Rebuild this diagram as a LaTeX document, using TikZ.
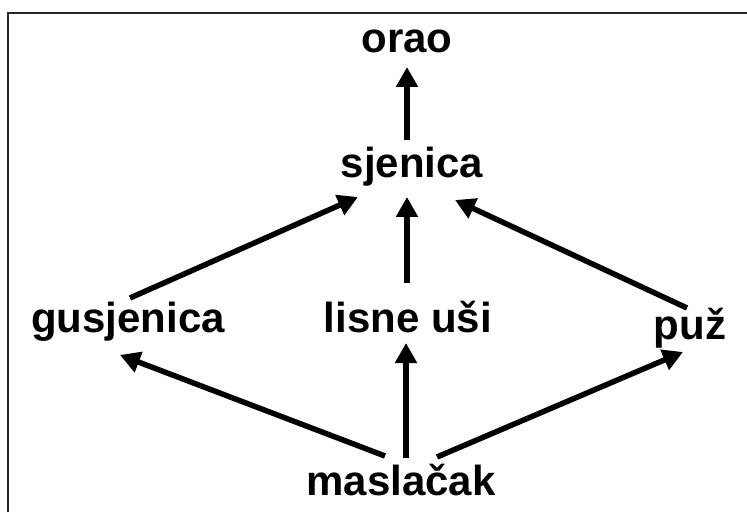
\documentclass[tikz,border=0pt]{standalone}
\usepackage{fontspec}
\setmainfont{Liberation Sans}
\usetikzlibrary{arrows.meta,calc}
\begin{document}
\begin{tikzpicture}[x=1pt,y=1pt,
  lbl/.style={anchor=base,inner sep=0pt,font=\fontsize{42}{50}\selectfont\bfseries},
  link/.style={line width=5.5pt,-{Triangle[length=20pt,width=21pt]}},
  frame/.style={line width=2pt,draw=black!85}]
\useasboundingbox (0,0) rectangle (747,512);
\draw[frame] (8,0) -- (8,499) -- (747,499);
\node[lbl] (orao) at (407,459) {orao};
\node[lbl] (sjen) at (412,334) {sjenica};
\node[lbl] (gus) at (128,179) {gusjenica};
\node[lbl] (lisne) at (408,179) {lisne uši};
\node[lbl] (puz) at (690,172) {puž};
\node[lbl] (masl) at (401,17) {maslačak};
\draw[link] ($(sjen.base)+(-5,38)$) -- ($(orao.base)+(0,-14)$);
\draw[link] ($(lisne.base)+(-1,50)$) -- ($(sjen.base)+(-5,-19)$);
\draw[link] ($(gus.base)+(2,35)$) -- ($(sjen.base)+(-54,-19)$);
\draw[link] ($(puz.base)+(-3,32)$) -- ($(sjen.base)+(43,-22)$);
\draw[link] ($(masl.base)+(-16,39)$) -- ($(gus.base)+(-8,-22)$);
\draw[link] ($(masl.base)+(5,37)$) -- ($(lisne.base)+(-2,-10)$);
\draw[link] ($(masl.base)+(36,38)$) -- ($(puz.base)+(-7,-12)$);
\end{tikzpicture}
\end{document}
